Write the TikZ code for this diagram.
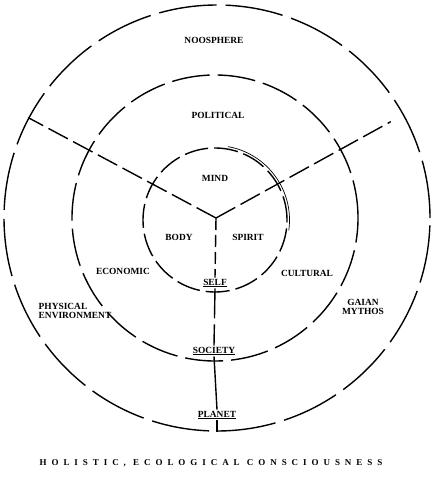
\documentclass[tikz,border=0pt]{standalone}
\usepackage{fontspec}
\setmainfont{Liberation Serif}
\usetikzlibrary{calc}
\tikzset{
  ring/.style={draw, circle, inner sep=0pt, line width=1.4pt},
  lbl/.style={font=\fontsize{9.4}{10}\selectfont\bfseries, inner sep=1pt, align=center},
  spoke/.style={line width=1.4pt},
}
\begin{document}
\begin{tikzpicture}[x=1pt,y=-1pt]
\useasboundingbox (0,0) rectangle (438,478);
\fill[white] (0,0) rectangle (438,478);
\coordinate (O) at (216,218);
% rings
\node[ring, minimum size=426pt, dash pattern=on 58pt off 9pt] (outer) at (217,218) {};
\node[ring, minimum size=286pt, dash pattern=on 38pt off 8pt] (middle) at (215,218) {};
\node[ring, minimum size=144pt, dash pattern=on 24pt off 6pt] (inner) at (215,220) {};
\draw[line width=0.7pt] ($(inner.center)+(80:74.5pt)$) arc[start angle=80, end angle=-8, radius=74.5pt];
% labels
\node[lbl] (noos) at (214,40) {NOOSPHERE};
\node[lbl] (pol) at (218,115) {POLITICAL};
\node[lbl] (mind) at (215,178) {MIND};
\node[lbl] (body) at (179,237) {BODY};
\node[lbl] (spirit) at (248,237) {SPIRIT};
\node[lbl] (econ) at (123,271) {ECONOMIC};
\node[lbl] (cult) at (307,273) {CULTURAL};
\node[lbl] (self) at (215,283) {\underline{SELF}};
\node[lbl, align=left] (phys) at (75,311) {PHYSICAL\\[-1pt]ENVIRONMENT};
\node[lbl] (gaian) at (363,307) {GAIAN\\[-1pt]MYTHOS};
\node[lbl] (soc) at (214,351) {\underline{SOCIETY}};
\node[lbl] (planet) at (217,415) {\underline{PLANET}};
\node[font=\fontsize{9}{10}\selectfont\bfseries\addfontfeatures{LetterSpace=55}, inner sep=0pt] (title) at (211,463) {HOLISTIC, ECOLOGICAL CONSCIOUSNESS};
% spokes
\coordinate (rend) at ($(O)!0.93!(outer.29)$);
\draw[spoke, dash pattern=on 22pt off 6pt] (O) -- (outer.152);
\draw[spoke, dash pattern=on 22pt off 6pt] (O) -- (rend);
\draw[spoke, dash pattern=on 12pt off 5pt] (O) -- (self.north);
\draw[spoke, dash pattern=on 30pt off 6pt] (self.south) -- (soc.north);
\draw[spoke] (soc.south) -- (planet.north);
\draw[spoke] (planet.south) -- (outer.south);
\end{tikzpicture}
\end{document}
